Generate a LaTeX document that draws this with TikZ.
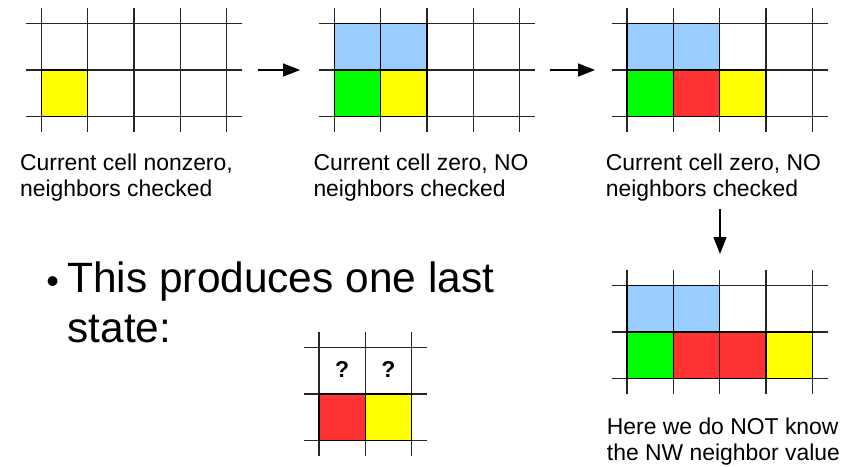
\documentclass[tikz,border=0pt]{standalone}
\usepackage{fontspec}
\setmainfont{Liberation Sans}
\usetikzlibrary{arrows.meta}
\definecolor{cyel}{RGB}{255,255,0}
\definecolor{cblue}{RGB}{153,204,255}
\definecolor{cgreen}{RGB}{0,255,0}
\definecolor{cred}{RGB}{255,51,51}
\def\cs{46.3}
\newcommand{\drawgrid}[4]{%
  \foreach \i in {0,...,#3} \draw[gridline] ({#1+\i*\cs},{#2-15.5}) -- ({#1+\i*\cs},{#2+#4*\cs+15.5});
  \foreach \j in {0,...,#4} \draw[gridline] ({#1-15.5},{#2+\j*\cs}) -- ({#1+#3*\cs+15.5},{#2+\j*\cs});
}
\newcommand{\gridcell}[5]{\filldraw[cellbox,fill=#5] ({#1+#3*\cs},{#2+#4*\cs}) rectangle +(\cs,\cs);}
\begin{document}
\begin{tikzpicture}[x=1pt,y=-1pt,
  gridline/.style={draw=black!85,line width=1.2pt},
  cellbox/.style={draw=black,line width=1.2pt},
  flow/.style={-{Triangle[length=17pt,width=13pt]},line width=1.6pt},
  caption/.style={anchor=north west,inner sep=0pt,align=left,font=\fontsize{22.9}{26}\selectfont},
  bigtext/.style={anchor=north west,inner sep=0pt,align=left,font=\fontsize{42.4}{50}\selectfont},
  qmark/.style={font=\bfseries\fontsize{23}{23}\selectfont,inner sep=0pt}
]
\useasboundingbox (0,0) rectangle (846,466);
% grid 1
\drawgrid{41.3}{23.7}{4}{2}
\gridcell{41.3}{23.7}{0}{1}{cyel}
% grid 2
\drawgrid{334.3}{23.7}{4}{2}
\gridcell{334.3}{23.7}{0}{0}{cblue}
\gridcell{334.3}{23.7}{1}{0}{cblue}
\gridcell{334.3}{23.7}{0}{1}{cgreen}
\gridcell{334.3}{23.7}{1}{1}{cyel}
% grid 3
\drawgrid{627}{23.7}{4}{2}
\gridcell{627}{23.7}{0}{0}{cblue}
\gridcell{627}{23.7}{1}{0}{cblue}
\gridcell{627}{23.7}{0}{1}{cgreen}
\gridcell{627}{23.7}{1}{1}{cred}
\gridcell{627}{23.7}{2}{1}{cyel}
% grid 4
\drawgrid{627}{285.7}{4}{2}
\gridcell{627}{285.7}{0}{0}{cblue}
\gridcell{627}{285.7}{1}{0}{cblue}
\gridcell{627}{285.7}{0}{1}{cgreen}
\gridcell{627}{285.7}{1}{1}{cred}
\gridcell{627}{285.7}{2}{1}{cred}
\gridcell{627}{285.7}{3}{1}{cyel}
% grid 5
\drawgrid{319}{347.7}{2}{2}
\gridcell{319}{347.7}{0}{1}{cred}
\gridcell{319}{347.7}{1}{1}{cyel}
\node[qmark] (q1) at (342.15,369.5) {?};
\node[qmark] (q2) at (388.45,369.5) {?};
% arrows
\coordinate (a1s) at (257.5,70);
\coordinate (a1e) at (300,70);
\coordinate (a2s) at (550,70);
\coordinate (a2e) at (595,70);
\coordinate (a3s) at (720,209);
\coordinate (a3e) at (720,254);
\draw[flow] (a1s) -- (a1e);
\draw[flow] (a2s) -- (a2e);
\draw[flow] (a3s) -- (a3e);
% captions
\node[caption] (c1) at (20,153.5) {Current cell nonzero,\\neighbors checked};
\node[caption] (c2) at (313.3,153.5) {Current cell zero, NO\\neighbors checked};
\node[caption] (c3) at (605.7,153.5) {Current cell zero, NO\\neighbors checked};
\node[caption] (c4) at (606.7,417.5) {Here we do NOT know\\the NW neighbor value};
% bullet
\node[anchor=base,inner sep=0pt,font=\fontsize{36}{36}\selectfont] (bul) at (52.7,293) {•};
\node[bigtext] (bt) at (67.3,262) {This produces one last\\state:};
\end{tikzpicture}
\end{document}
